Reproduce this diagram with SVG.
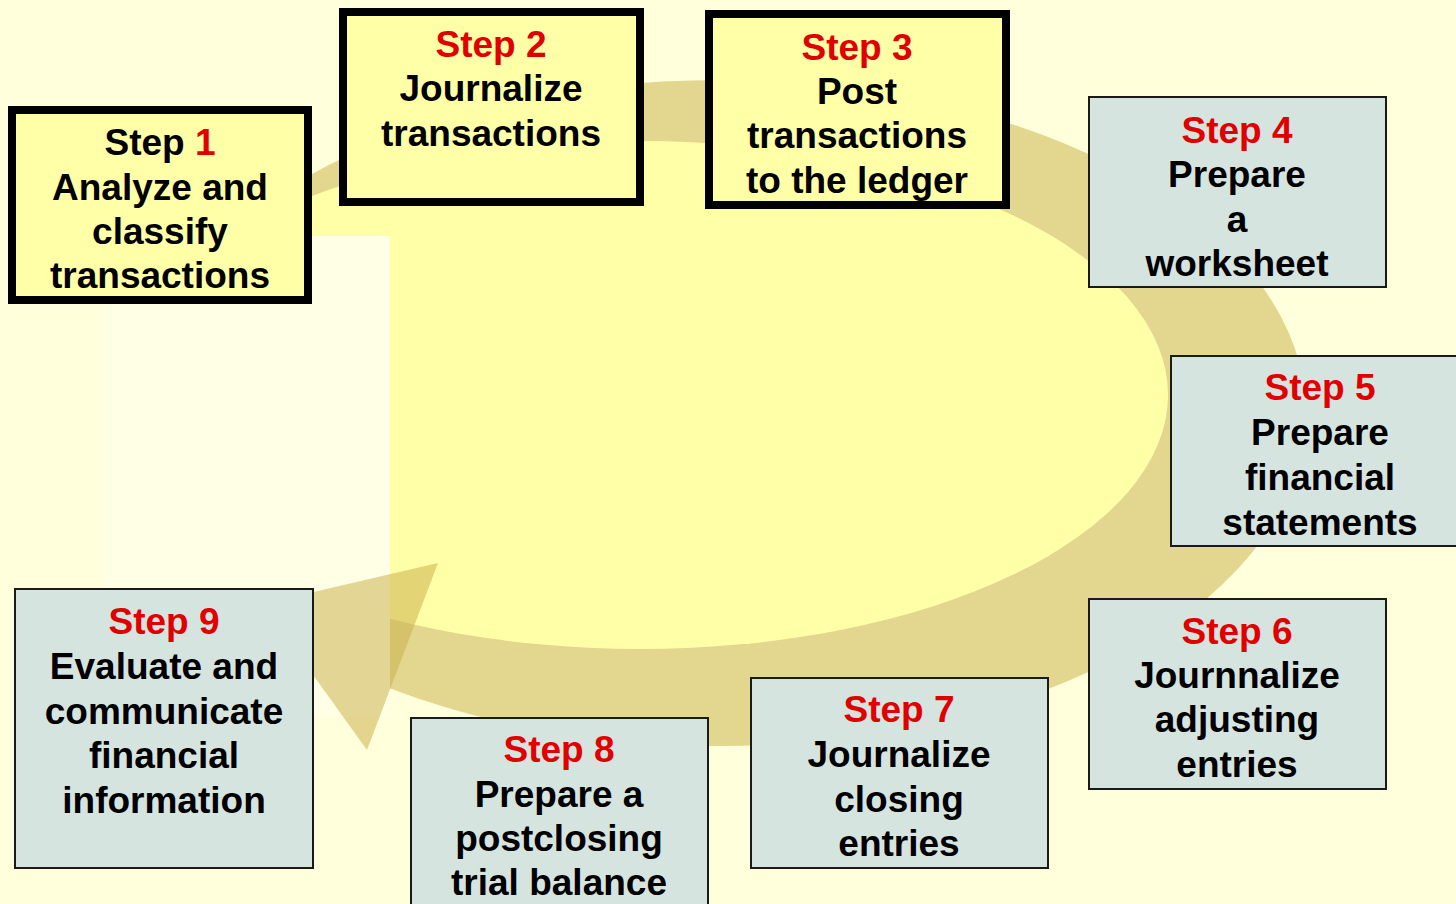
<svg xmlns="http://www.w3.org/2000/svg" width="1456" height="904" viewBox="0 0 1456 904">
<style>
.bg{fill:#FFFFDC}
.t{font-family:"Liberation Sans",Arial,sans-serif;font-weight:bold;font-size:37px;fill:#000;text-anchor:middle}
.r{fill:#E00000}
.yb{fill:#FFFFA8;stroke:#000;stroke-width:8}
.gb{fill:#D6E4E0;stroke:#1A1A1A;stroke-width:2}
</style>
<rect class="bg" x="0" y="0" width="1456" height="904"/>
<g id="connectors">
  <ellipse cx="720" cy="413" rx="586" ry="333" fill="#E3D68E"/>
  <ellipse cx="640" cy="395" rx="528" ry="254" fill="#FFFFA8"/>
  <rect x="103" y="236" width="287" height="481" fill="#FFFFE6"/>
  <polygon points="438,563 262,604 367,750" fill="#CBB24B" fill-opacity="0.54"/>
</g>
<g id="step1">
  <rect class="yb" x="12" y="110" width="296" height="190"/>
  <text class="t" x="160" y="155"><tspan>Step </tspan><tspan class="r">1</tspan></text>
  <text class="t" x="160" y="200">Analyze and</text>
  <text class="t" x="160" y="244">classify</text>
  <text class="t" x="160" y="288">transactions</text>
</g>
<g id="step2">
  <rect class="yb" x="343" y="12" width="297" height="190"/>
  <text class="t r" x="491" y="57">Step 2</text>
  <text class="t" x="491" y="101">Journalize</text>
  <text class="t" x="491" y="146">transactions</text>
</g>
<g id="step3">
  <rect class="yb" x="709" y="14" width="297" height="191"/>
  <text class="t r" x="857" y="60">Step 3</text>
  <text class="t" x="857" y="104">Post</text>
  <text class="t" x="857" y="148">transactions</text>
  <text class="t" x="857" y="193">to the ledger</text>
</g>
<g id="step4">
  <rect class="gb" x="1089" y="97" width="297" height="190"/>
  <text class="t r" x="1237" y="143">Step 4</text>
  <text class="t" x="1237" y="187">Prepare</text>
  <text class="t" x="1237" y="232">a</text>
  <text class="t" x="1237" y="276">worksheet</text>
</g>
<g id="step5">
  <rect class="gb" x="1171" y="356" width="300" height="190"/>
  <text class="t r" x="1320" y="400">Step 5</text>
  <text class="t" x="1320" y="445">Prepare</text>
  <text class="t" x="1320" y="490">financial</text>
  <text class="t" x="1320" y="535">statements</text>
</g>
<g id="step6">
  <rect class="gb" x="1089" y="599" width="297" height="190"/>
  <text class="t r" x="1237" y="644">Step 6</text>
  <text class="t" x="1237" y="688">Journnalize</text>
  <text class="t" x="1237" y="732">adjusting</text>
  <text class="t" x="1237" y="777">entries</text>
</g>
<g id="step7">
  <rect class="gb" x="751" y="678" width="297" height="190"/>
  <text class="t r" x="899" y="722">Step 7</text>
  <text class="t" x="899" y="767">Journalize</text>
  <text class="t" x="899" y="812">closing</text>
  <text class="t" x="899" y="856">entries</text>
</g>
<g id="step8">
  <rect class="gb" x="411" y="718" width="297" height="200"/>
  <text class="t r" x="559" y="762">Step 8</text>
  <text class="t" x="559" y="807">Prepare a</text>
  <text class="t" x="559" y="851">postclosing</text>
  <text class="t" x="559" y="895">trial balance</text>
</g>
<g id="step9">
  <rect class="gb" x="15" y="589" width="298" height="279"/>
  <text class="t r" x="164" y="634">Step 9</text>
  <text class="t" x="164" y="679">Evaluate and</text>
  <text class="t" x="164" y="724">communicate</text>
  <text class="t" x="164" y="768">financial</text>
  <text class="t" x="164" y="813">information</text>
</g>
</svg>
